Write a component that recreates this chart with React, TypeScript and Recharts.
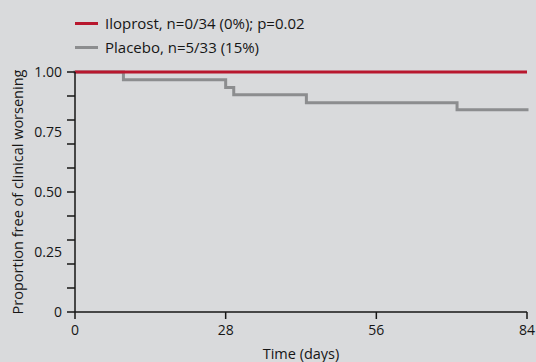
import { LineChart, Line, XAxis, YAxis, Legend } from 'recharts';

const xTicks = [0, 28, 56, 84];
const yTicks = [0, 0.1, 0.2, 0.25, 0.3, 0.4, 0.5, 0.6, 0.7, 0.75, 0.8, 0.9, 1];
const yLabelTicks = [0, 0.25, 0.5, 0.75, 1];
const yLabels = ['0', '0.25', '0.50', '0.75', '1.00'];

const iloprostDays = [0, 84];
const iloprostValues = [1, 1];

const placeboDays = [0, 9, 28, 29.5, 43, 71, 84];
const placeboValues = [1, 0.968, 0.935, 0.905, 0.872, 0.843, 0.843];

const iloprost = iloprostDays.map((d, i) => ({ day: d, value: iloprostValues[i] }));
const placebo = placeboDays.map((d, i) => ({ day: d, value: placeboValues[i] }));

const RED = '#b8172e';
const GRAY = '#8c8d8f';
const INK = '#161616';
const FONT = '"Open Sans", sans-serif';

const legendItems = [
  { label: 'Iloprost, n=0/34 (0%); p=0.02', color: RED },
  { label: 'Placebo, n=5/33 (15%)', color: GRAY },
];

function YTick(props: any) {
  const { x, y, payload } = props;
  const v = payload.value;
  const isTen = Math.abs(v * 10 - Math.round(v * 10)) < 1e-6;
  const li = yLabelTicks.findIndex(t => Math.abs(t - v) < 1e-6);
  return (
    <g>
      {isTen && <line x1={x - 8} x2={x} y1={y} y2={y} stroke={INK} strokeWidth={1.5} />}
      {li >= 0 && (
        <text x={x - 13} y={y} dy="0.35em" textAnchor="end" fill={INK} fontSize={14} fontFamily={FONT}>
          {yLabels[li]}
        </text>
      )}
    </g>
  );
}

function LegendBox() {
  return (
    <div style={{ fontFamily: FONT, fontSize: 15, color: INK }}>
      {legendItems.map(item => (
        <div key={item.label} style={{ display: 'flex', alignItems: 'center', height: 24 }}>
          <div style={{ width: 23, height: 3, background: item.color, marginRight: 7 }} />
          <span>{item.label}</span>
        </div>
      ))}
    </div>
  );
}

export default function App() {
  return (
    <div style={{ position: 'absolute', left: 0, top: 0, width: 536, height: 362, background: '#d9dadc' }}>
      <LineChart width={536} height={362} margin={{ top: 72, right: 9, bottom: 0, left: 0 }}>
        <XAxis
          type="number"
          dataKey="day"
          domain={[0, 84]}
          ticks={xTicks}
          interval={0}
          height={50}
          tickSize={7}
          tickMargin={6}
          axisLine={{ stroke: INK, strokeWidth: 1.5 }}
          tickLine={{ stroke: INK, strokeWidth: 1.5 }}
          tick={{ fill: INK, fontSize: 14, fontFamily: FONT }}
          label={{ value: 'Time (days)', position: 'insideBottom', offset: 3, fill: INK, fontSize: 14.5, fontFamily: FONT }}
        />
        <YAxis
          type="number"
          domain={[0, 1]}
          ticks={yTicks}
          interval={0}
          width={75}
          tickSize={0}
          tickMargin={0}
          axisLine={{ stroke: INK, strokeWidth: 1.5 }}
          tickLine={false}
          tick={<YTick />}
          label={{
            value: 'Proportion free of clinical worsening',
            angle: -90,
            position: 'insideLeft',
            offset: 18,
            fill: INK,
            fontSize: 14.5,
            fontFamily: FONT,
            style: { textAnchor: 'middle' },
          }}
        />
        <Legend
          verticalAlign="middle"
          align="center"
          content={() => <LegendBox />}
          wrapperStyle={{ top: 11, left: 75, width: 'auto' }}
        />
        <Line
          data={placebo}
          dataKey="value"
          type="stepAfter"
          stroke={GRAY}
          strokeWidth={3}
          dot={false}
          activeDot={false}
          isAnimationActive={false}
          strokeLinecap="square"
        />
        <Line
          data={iloprost}
          dataKey="value"
          type="stepAfter"
          stroke={RED}
          strokeWidth={3}
          dot={false}
          activeDot={false}
          isAnimationActive={false}
        />
      </LineChart>
    </div>
  );
}
